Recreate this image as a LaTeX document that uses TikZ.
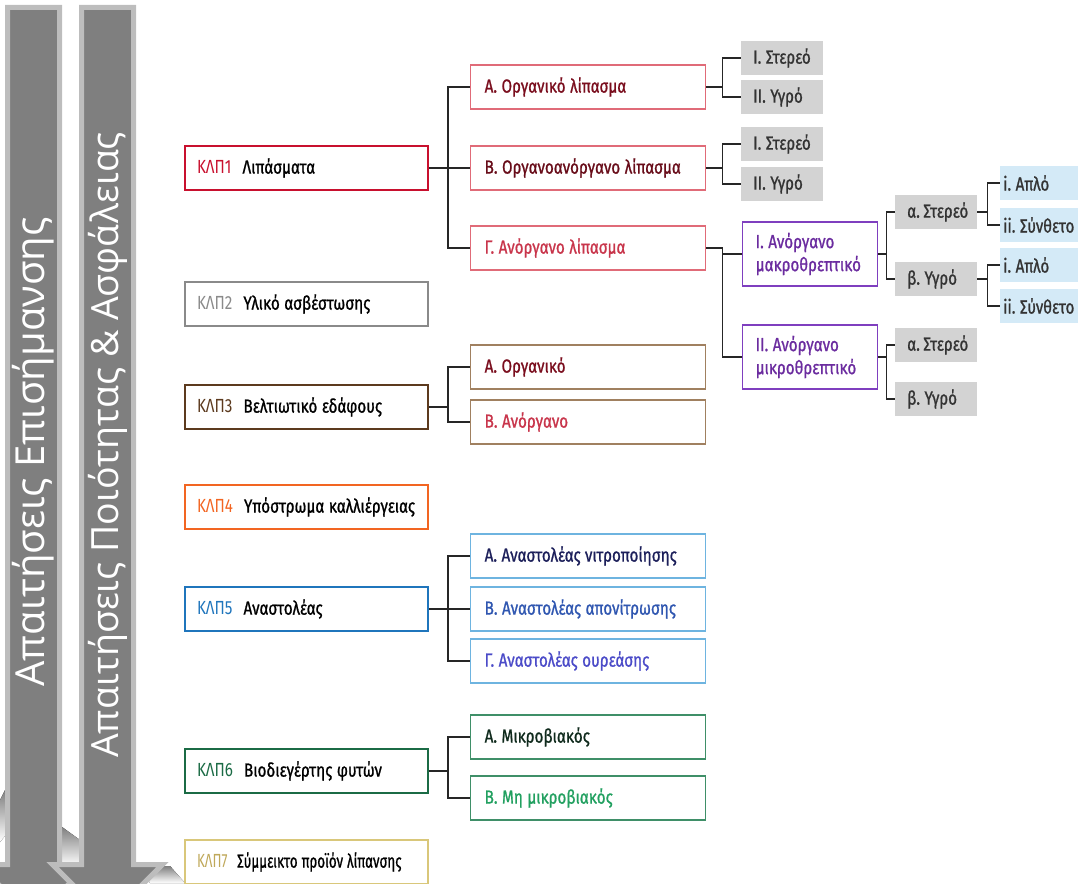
\documentclass[tikz,border=0pt]{standalone}
\usepackage{fontspec}
\setmainfont{Fira Sans}[FakeStretch=0.8]
\newfontfamily\medfont{Fira Sans}[FakeStretch=0.8,FakeBold=1]
\newfontfamily\barfont{Open Sans}
\usepackage{xcolor}
\usetikzlibrary{positioning}
\definecolor{redA}{HTML}{C8102E}
\definecolor{redB}{HTML}{E06B78}
\definecolor{wine}{HTML}{7A0E1E}
\definecolor{crimson}{HTML}{C8354B}
\definecolor{boxgray}{HTML}{D3D3D3}
\definecolor{txtgray}{HTML}{333333}
\definecolor{violetA}{HTML}{7F3FBF}
\definecolor{violetT}{HTML}{6B2C9F}
\definecolor{paleblue}{HTML}{D4EAF7}
\definecolor{greyA}{HTML}{8A8A8A}
\definecolor{brownA}{HTML}{5C3A1E}
\definecolor{brownB}{HTML}{A08060}
\definecolor{orangeA}{HTML}{F26522}
\definecolor{blueA}{HTML}{1F75BC}
\definecolor{blueB}{HTML}{6EB4E0}
\definecolor{navyT}{HTML}{1C1F5A}
\definecolor{blueT}{HTML}{2F56B0}
\definecolor{indigoT}{HTML}{4B4BC8}
\definecolor{greenA}{HTML}{1B6B45}
\definecolor{greenB}{HTML}{3F8F68}
\definecolor{greenT}{HTML}{0F2A1C}
\definecolor{mintT}{HTML}{22A060}
\definecolor{khakiA}{HTML}{D9C77A}
\definecolor{khakiT}{HTML}{BFA85A}
\definecolor{arrowgray}{HTML}{7F7F7F}
\definecolor{arrowedge}{HTML}{BDBDBD}
\definecolor{shade}{HTML}{DADADA}
\newcommand{\klp}[3]{\mbox{{\color{#1}ΚΛΠ#2}\hspace{11pt}{\medfont #3}}}
\newcommand{\boxfont}{\fontsize{19}{23}\selectfont\spaceskip=4.5pt plus 1pt minus 1pt\relax}

\begin{document}
\begin{tikzpicture}[x=1pt,y=-1pt]
\tikzstyle{every node}=[font=\boxfont]
\tikzstyle{klpbox}=[draw,line width=2pt,minimum width=243,minimum height=44,inner xsep=12,text width=219,align=flush left,anchor=west]
\tikzstyle{subbox}=[draw,line width=1.3pt,minimum width=235,minimum height=44,inner xsep=14,text width=207,align=flush left,anchor=west,font=\boxfont\medfont]
\tikzstyle{graybox}=[fill=boxgray,text=txtgray,minimum width=81,minimum height=34,inner xsep=12,text width=58,align=flush left,anchor=west,font=\boxfont\medfont]
\tikzstyle{violetbox}=[draw=violetA,line width=1.3pt,text=violetT,minimum width=135,minimum height=64,inner xsep=13,text width=109,align=flush left,anchor=west,font=\boxfont\medfont]
\tikzstyle{bluebox}=[fill=paleblue,text=txtgray,minimum width=95,minimum height=34,inner xsep=3,text width=89,align=flush left,anchor=west,font=\boxfont\medfont]
\tikzstyle{link}=[line width=1.6pt,draw=black!85]
\tikzstyle{arrowbody}=[fill=arrowgray,draw=arrowedge,line width=5pt,line join=miter]
\tikzstyle{bartext}=[text=white,rotate=90,font=\fontsize{37.5}{40}\barfont]
\useasboundingbox (0,0) rectangle (1078,883);

\fill[shade] (5,790) -- (0,800) -- (0,842) -- (5,836) -- cycle;
\fill[shade] (62,827) -- (80,840) -- (80,866) -- (62,866) -- cycle;
\fill[shade] (140,866) -- (170,866) -- (185,883) -- (150,883) -- cycle;
\draw[arrowbody] (7.5,7.5) -- (59.5,7.5) -- (59.5,864.5) -- (88.5,864.5) -- (33.5,919.5) -- (-21.5,864.5) -- (7.5,864.5) -- cycle;
\draw[arrowbody] (81.5,7.5) -- (133.5,7.5) -- (133.5,864.5) -- (162.5,864.5) -- (107.5,919.5) -- (52.5,864.5) -- (81.5,864.5) -- cycle;
\node[bartext,font=\fontsize{40}{42}\barfont] (lab) at (33.5,452) {Απαιτήσεις Επισήμανσης};
\node[bartext] (qual) at (107.5,445) {Απαιτήσεις Ποιότητας \& Ασφάλειας};

\node[klpbox,draw=redA] (k1) at (184,168) {\klp{redA}{1}{Λιπάσματα}};
\node[klpbox,draw=greyA] (k2) at (184,304) {\klp{greyA}{2}{Υλικό ασβέστωσης}};
\node[klpbox,draw=brownA] (k3) at (184,407) {\klp{brownA}{3}{Βελτιωτικό εδάφους}};
\node[klpbox,draw=orangeA] (k4) at (184,507) {\klp{orangeA}{4}{Υπόστρωμα καλλιέργειας}};
\node[klpbox,draw=blueA] (k5) at (184,609) {\klp{blueA}{5}{Αναστολέας}};
\node[klpbox,draw=greenA] (k6) at (184,771) {\klp{greenA}{6}{Βιοδιεγέρτης φυτών}};
\node[klpbox,draw=khakiA] (k7) at (184,862) {\scalebox{0.88}[1]{\klp{khakiT}{7}{Σύμμεικτο προϊόν λίπανσης}}};

\node[subbox,draw=redB,text=wine] (k1a) at (470,87) {Α. Οργανικό λίπασμα};
\node[subbox,draw=redB,text=wine!85!black] (k1b) at (470,168) {Β. Οργανοανόργανο λίπασμα};
\node[subbox,draw=redB,text=crimson] (k1c) at (470,248) {Γ. Ανόργανο λίπασμα};
\node[graybox] (k1a1) at (741,58) {I.~Στερεό};
\node[graybox] (k1a2) at (741,97) {II.~Υγρό};
\node[graybox] (k1b1) at (741,144) {I.~Στερεό};
\node[graybox] (k1b2) at (741,184) {II.~Υγρό};
\node[violetbox] (k1c1) at (742,254) {I. Ανόργανο\\μακροθρεπτικό};
\node[violetbox] (k1c2) at (742,357) {II. Ανόργανο\\μικροθρεπτικό};
\node[graybox,minimum width=82] (k1c1a) at (895,212) {α.~Στερεό};
\node[graybox,minimum width=82] (k1c1b) at (895,279) {β.~Υγρό};
\node[graybox,minimum width=82] (k1c2a) at (895,345) {α.~Στερεό};
\node[graybox,minimum width=82] (k1c2b) at (895,399) {β.~Υγρό};
\node[bluebox] (k1c1a1) at (1000,183) {i.~Απλό};
\node[bluebox] (k1c1a2) at (1000,225) {ii.~Σύνθετο};
\node[bluebox] (k1c1b1) at (1000,265) {i.~Απλό};
\node[bluebox] (k1c1b2) at (1000,306) {ii.~Σύνθετο};

\node[subbox,draw=brownB,text=wine] (k3a) at (470,367) {Α. Οργανικό};
\node[subbox,draw=brownB,text=crimson] (k3b) at (470,422) {Β. Ανόργανο};
\node[subbox,draw=blueB,text=navyT] (k5a) at (470,556) {Α. Αναστολέας νιτροποίησης};
\node[subbox,draw=blueB,text=blueT] (k5b) at (470,609) {Β. Αναστολέας απονίτρωσης};
\node[subbox,draw=blueB,text=indigoT] (k5c) at (470,661) {Γ. Αναστολέας ουρεάσης};
\node[subbox,draw=greenB,text=greenT] (k6a) at (470,737) {Α. Μικροβιακός};
\node[subbox,draw=greenB,text=mintT] (k6b) at (470,798) {Β. Μη μικροβιακός};

\foreach \c in {k1a,k1b,k1c} \draw[link] (k1.east) -- ++(19,0) |- (\c.west);
\foreach \c in {k3a,k3b} \draw[link] (k3.east) -- ++(19,0) |- (\c.west);
\foreach \c in {k5a,k5b,k5c} \draw[link] (k5.east) -- ++(19,0) |- (\c.west);
\foreach \c in {k6a,k6b} \draw[link] (k6.east) -- ++(19,0) |- (\c.west);
\foreach \c in {k1a1,k1a2} \draw[link] (k1a.east) -- ++(16,0) |- (\c.west);
\foreach \c in {k1b1,k1b2} \draw[link] (k1b.east) -- ++(16,0) |- (\c.west);
\foreach \c in {k1c1,k1c2} \draw[link] (k1c.east) -- ++(16,0) |- (\c.west);
\foreach \c in {k1c1a,k1c1b} \draw[link] (k1c1.east) -- ++(8,0) |- (\c.west);
\foreach \c in {k1c2a,k1c2b} \draw[link] (k1c2.east) -- ++(8,0) |- (\c.west);
\foreach \c in {k1c1a1,k1c1a2} \draw[link] (k1c1a.east) -- ++(10,0) |- (\c.west);
\foreach \c in {k1c1b1,k1c1b2} \draw[link] (k1c1b.east) -- ++(10,0) |- (\c.west);
\end{tikzpicture}
\end{document}
